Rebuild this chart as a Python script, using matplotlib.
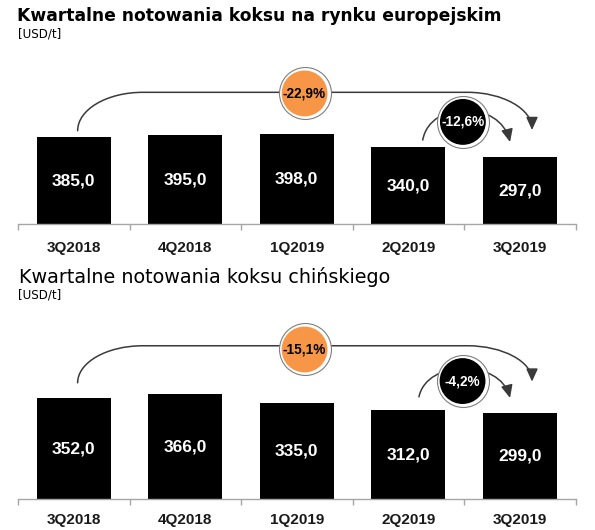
import matplotlib
matplotlib.use("Agg")
import matplotlib.pyplot as plt
from matplotlib.path import Path
from matplotlib.patches import FancyArrowPatch

# ---------------- data ----------------
categories = ["3Q2018", "4Q2018", "1Q2019", "2Q2019", "3Q2019"]
europe_values = [385.0, 395.0, 398.0, 340.0, 297.0]
china_values = [352.0, 366.0, 335.0, 312.0, 299.0]
title_europe = "Kwartalne notowania koksu na rynku europejskim"
title_china = "Kwartalne notowania koksu chińskiego"
unit_label = "[USD/t]"

# ---------------- style ----------------
W, H = 595, 530
DPI = 100
ORANGE = "#F79646"
AXIS_GREY = "#A6A6A6"
ARC_COLOR = "#3a3a3a"
NARROW = ["Liberation Sans Narrow", "Liberation Sans", "DejaVu Sans"]

fig = plt.figure(figsize=(W / DPI, H / DPI), dpi=DPI)
fig.patch.set_facecolor("white")


def fmt(v):
    return f"{v:.1f}".replace(".", ",")


def pct(a, b):
    return f"{(b / a - 1) * 100:.1f}".replace(".", ",") + "%"


def px_axes(left, bottom_from_top, width, height):
    return fig.add_axes([left / W, (H - bottom_from_top) / H, width / W, height / H])


def draw_panel(ax, values, ymax, ann, pad):
    x = list(range(len(categories)))
    ax.bar(x, values, width=0.667, color="black", zorder=2)
    ax.set_xlim(-0.5, len(categories) - 0.5)
    ax.set_ylim(0, ymax)
    for s in ["top", "left", "right"]:
        ax.spines[s].set_visible(False)
    ax.spines["bottom"].set_color(AXIS_GREY)
    ax.spines["bottom"].set_linewidth(1.0)
    ax.set_yticks([])
    ax.set_xticks(x)
    ax.set_xticklabels(categories, fontfamily=NARROW, fontweight="bold",
                       fontsize=11, color="#1a1a1a")
    ax.tick_params(axis="x", which="major", length=0, pad=pad)
    ax.set_xticks([i - 0.5 for i in range(len(categories) + 1)], minor=True)
    ax.tick_params(axis="x", which="minor", length=4, color=AXIS_GREY, width=1.0)
    for xi, v in zip(x, values):
        ax.text(xi, v / 2, fmt(v), ha="center", va="center", color="white",
                fontfamily=NARROW, fontweight="bold", fontsize=12.5, zorder=3)

    # big arc (first -> last)
    sx, sy = ann["big_start"]
    hy = ann["big_level"]
    kl, kr = ann["knee_left"], ann["knee_right"]
    tx, ty = ann["big_tip"]
    k = 0.5523
    verts = [(sx, sy),
             (sx, sy + k * (hy - sy)), (kl - k * (kl - sx), hy), (kl, hy),
             (kr, hy),
             (kr + k * (tx - kr), hy), (tx, ty + k * (hy - ty)), (tx, ty)]
    codes = [Path.MOVETO, Path.CURVE4, Path.CURVE4, Path.CURVE4, Path.LINETO,
             Path.CURVE4, Path.CURVE4, Path.CURVE4]
    arr = FancyArrowPatch(path=Path(verts, codes),
                          arrowstyle="-|>,head_length=0.55,head_width=0.25",
                          mutation_scale=14, color=ARC_COLOR, lw=1.1,
                          zorder=4, clip_on=False)
    ax.add_patch(arr)

    # small arc (second to last -> last)
    sverts = ann["small"]
    scodes = [Path.MOVETO, Path.CURVE4, Path.CURVE4, Path.CURVE4]
    arr2 = FancyArrowPatch(path=Path(sverts, scodes),
                           arrowstyle="-|>,head_length=0.55,head_width=0.25",
                           mutation_scale=14, color=ARC_COLOR, lw=1.1,
                           zorder=4, clip_on=False)
    ax.add_patch(arr2)

    # circles
    for (cx, cy), face, tcol, label in [
        (ann["orange_c"], ORANGE, "black", pct(values[0], values[-1])),
        (ann["black_c"], "black", "white", pct(values[-2], values[-1])),
    ]:
        ax.scatter([cx], [cy], s=1400, facecolor="white", edgecolor="#7f7f7f",
                   linewidth=0.8, zorder=5, clip_on=False)
        ax.scatter([cx], [cy], s=1090, facecolor=face, edgecolor="none",
                   zorder=6, clip_on=False)
        ax.text(cx, cy, label, ha="center", va="center", color=tcol,
                fontfamily=NARROW, fontweight="bold", fontsize=9.8, zorder=7)


# axes geometry (pixels)
ax_left, ax_width = 18, 557.5
top_base, top_scale = 224.3, 0.226
bot_base, bot_scale = 499.3, 0.287
ax_h = 150

ax1 = px_axes(ax_left, top_base, ax_width, ax_h)
ann_top = dict(big_start=(0.035, 414), big_level=584, knee_left=0.62,
               knee_right=3.53, big_tip=(4.11, 417),
               small=[(3.13, 373), (3.195, 550), (3.823, 550), (3.913, 364)],
               orange_c=(2.07, 579), black_c=(3.49, 453))
draw_panel(ax1, europe_values, ax_h / top_scale, ann_top, pad=12)

ax2 = px_axes(ax_left, bot_base, ax_width, ax_h)
ann_bot = dict(big_start=(0.035, 406), big_level=535, knee_left=0.62,
               knee_right=3.53, big_tip=(4.11, 410),
               small=[(3.096, 357), (3.168, 489), (3.823, 489), (3.913, 353)],
               orange_c=(2.07, 522), black_c=(3.487, 412))
draw_panel(ax2, china_values, ax_h / bot_scale, ann_bot, pad=10)

# titles
renderer = fig.canvas.get_renderer()


def fitted_text(x_px, base_px, s, target_w, weight, fs0):
    t = fig.text(x_px / W, (H - base_px) / H, s, ha="left", va="baseline",
                 fontfamily="DejaVu Sans", fontweight=weight, fontsize=fs0,
                 color="black")
    w = t.get_window_extent(renderer).width
    t.set_fontsize(fs0 * target_w / w)
    return t


fitted_text(17, 20.7, title_europe, 480, "bold", 13)
fitted_text(19, 282.7, title_china, 371, "normal", 13)
for yc in (34, 294.5):
    fig.text(18 / W, (H - yc) / H, unit_label, ha="left", va="center",
             fontfamily="DejaVu Sans", fontsize=8.6, color="black")

fig.savefig("out.png", dpi=DPI, facecolor="white")
